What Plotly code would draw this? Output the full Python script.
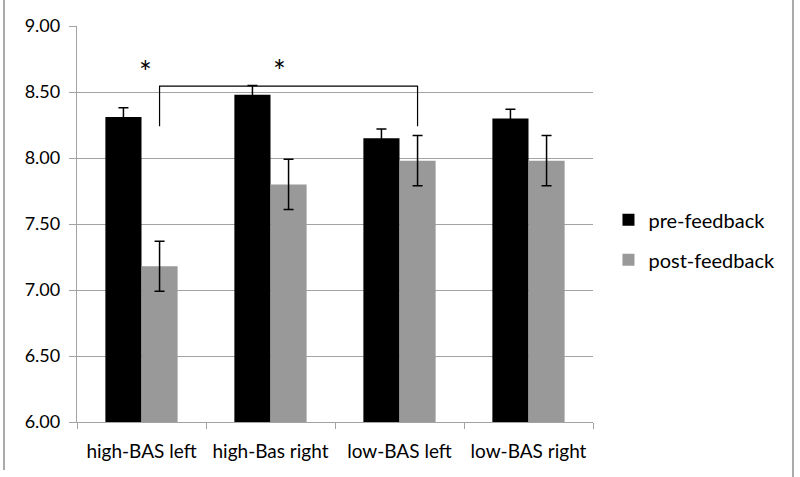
import plotly.graph_objects as go

categories = ["high-BAS left", "high-Bas right", "low-BAS left", "low-BAS right"]
pre_feedback = [8.31, 8.48, 8.15, 8.30]
pre_err = [0.07, 0.07, 0.07, 0.07]
post_feedback = [7.18, 7.80, 7.98, 7.98]
post_err = [0.19, 0.19, 0.19, 0.19]
y_ticks = [6.0, 6.5, 7.0, 7.5, 8.0, 8.5, 9.0]

FONT = "Lato"
GRID = "#a3a3a3"

fig = go.Figure()
fig.add_trace(go.Bar(
    x=categories, y=pre_feedback, name="pre-feedback", legendgroup="a",
    marker=dict(color="#000000", line=dict(width=0)),
    error_y=dict(type="data", array=pre_err, color="#000000", thickness=1.5, width=5),
))
fig.add_trace(go.Bar(
    x=categories, y=post_feedback, name="post-feedback", legendgroup="b",
    marker=dict(color="#999999", line=dict(width=0)),
    error_y=dict(type="data", array=post_err, color="#000000", thickness=1.5, width=5),
))

# significance bracket
fig.add_trace(go.Scatter(
    x=[0.14, 0.14, 2.14, 2.14], y=[8.24, 8.545, 8.545, 8.24],
    mode="lines", line=dict(color="#000000", width=1.2),
    showlegend=False, hoverinfo="skip", xaxis="x2",
))

fig.add_annotation(x=0.03, y=8.66, xref="x2", yref="y", text="*", showarrow=False,
                   font=dict(size=30, color="#000000", family=FONT))
fig.add_annotation(x=1.07, y=8.67, xref="x2", yref="y", text="*", showarrow=False,
                   font=dict(size=30, color="#000000", family=FONT))

fig.update_layout(
    width=800, height=477,
    margin=dict(l=77, r=207, t=26, b=55, autoexpand=False),
    paper_bgcolor="white", plot_bgcolor="white",
    barmode="group", bargap=0.44, bargroupgap=0,
    font=dict(family=FONT, size=19, color="#000000"),
    xaxis=dict(
        type="category", tickson="boundaries", ticks="outside", ticklen=6,
        tickcolor=GRID, showline=True, linecolor=GRID, linewidth=1.3,
        showgrid=False, tickfont=dict(size=19, family=FONT), automargin=False,
        tickangle=0, ticklabelstandoff=12,
    ),
    xaxis2=dict(range=[-0.5, 3.5], overlaying="x", visible=False),
    yaxis=dict(
        range=[6.0, 9.0], tickvals=y_ticks, ticktext=[f"{v:.2f}" for v in y_ticks],
        ticks="outside", ticklen=7, tickcolor=GRID,
        showline=True, linecolor=GRID, linewidth=1.3,
        showgrid=True, gridcolor=GRID, gridwidth=1.3,
        zeroline=False, tickfont=dict(size=18, family=FONT), automargin=False,
        ticklabelstandoff=5,
    ),
    legend=dict(
        x=1.03, y=0.46, xanchor="left", yanchor="middle",
        font=dict(size=20, family=FONT), itemwidth=30, tracegroupgap=11,
    ),
    shapes=[
        dict(type="line", xref="paper", yref="paper", x0=-0.1415, x1=-0.1415,
             y0=1.066, y1=-0.121, line=dict(color="#aaaaaa", width=2)),
        dict(type="line", xref="paper", yref="paper", x0=1.3876, x1=1.3876,
             y0=1.066, y1=-0.139, line=dict(color="#aaaaaa", width=2)),
    ],
)

fig.write_html(
    "out.html",
    config={"displayModeBar": False},
    post_script="document.body.style.margin='0';document.body.style.padding='0';",
)
